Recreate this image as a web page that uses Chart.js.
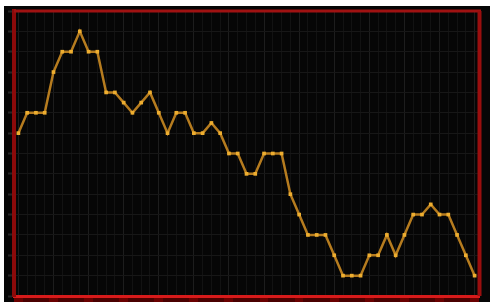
<!DOCTYPE html>
<html>
<head>
<meta charset="utf-8">
<script src="https://cdn.jsdelivr.net/npm/chart.js@4/dist/chart.umd.min.js"></script>
<style>
  html, body { margin: 0; padding: 0; background: #ffffff; width: 490px; height: 303px; overflow: hidden; }
  #wrap { position: absolute; left: 4px; top: 6px; width: 486px; height: 296px; background: #060606; }
  canvas { display: block; }
</style>
</head>
<body>
<div id="wrap"><canvas id="c" width="486" height="296"></canvas></div>
<script>
// Categories (no visible labels in the reference)
const categories = ["1","2","3","4","5","6","7","8","9","10","11","12","13","14","15","16","17","18","19","20",
  "21","22","23","24","25","26","27","28","29","30","31","32","33","34","35","36","37","38","39","40",
  "41","42","43","44","45","46","47","48","49","50","51","52","53"];
// Series values (in half-grid units)
const seriesValues = [16,18,18,18,22,24,24,26,24,24,20,20,19,18,19,20,18,16,18,18,16,16,17,16,14,14,12,12,14,14,14,10,8,6,6,6,4,2,2,2,4,4,6,4,6,8,8,9,8,8,6,4,2];
// Y axis range
const yMin = 0;
const yMax = 28;
const yStep = 2;

const frame = {
  id: 'frame',
  afterDraw(chart) {
    const a = chart.chartArea, ctx = chart.ctx;
    ctx.save();
    ctx.lineCap = 'butt';
    ctx.strokeStyle = '#a01212';
    ctx.lineWidth = 3;
    ctx.beginPath(); ctx.moveTo(a.left, a.top); ctx.lineTo(a.right + 2, a.top); ctx.stroke();
    ctx.strokeStyle = '#9a0e0e';
    ctx.lineWidth = 4;
    ctx.beginPath(); ctx.moveTo(a.right + 0.5, a.top); ctx.lineTo(a.right + 0.5, a.bottom); ctx.stroke();
    ctx.restore();
  }
};

new Chart(document.getElementById('c'), {
  type: 'line',
  data: {
    labels: categories,
    datasets: [{
      data: seriesValues,
      borderColor: '#b67c1f',
      borderWidth: 2.5,
      tension: 0,
      pointStyle: 'rect',
      pointRadius: 2.6,
      pointBorderWidth: 0,
      pointBackgroundColor: '#eeae30'
    }]
  },
  options: {
    responsive: false,
    animation: false,
    layout: { padding: { top: 5, right: 11, left: 0, bottom: 0 } },
    plugins: { legend: { display: false }, tooltip: { enabled: false } },
    scales: {
      x: {
        offset: true,
        border: { display: true, color: '#d81a1a', width: 3 },
        grid: {
          offset: false,
          color: (c) => (c.index % 4 === 0 ? '#1d1d1d' : '#121212'),
          lineWidth: 1,
          drawTicks: true,
          tickLength: 6,
          tickColor: (c) => (c.index % 4 === 0 ? '#6a0000' : '#4a0000'),
          tickWidth: 9
        },
        ticks: { display: false, autoSkip: false }
      },
      y: {
        min: yMin,
        max: yMax,
        border: { display: true, color: '#8c0a0a', width: 4 },
        grid: {
          color: '#171717',
          lineWidth: 1,
          drawTicks: true,
          tickLength: 10,
          tickColor: '#262626',
          tickWidth: 2,
          tickBorderDash: [0, 4, 6, 20]
        },
        ticks: { display: false, stepSize: yStep }
      }
    }
  },
  plugins: [frame]
});
</script>
</body>
</html>
